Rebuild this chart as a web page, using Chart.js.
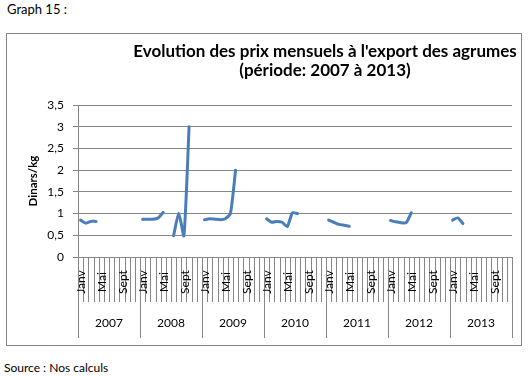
<!DOCTYPE html>
<html><head><meta charset="utf-8">
<script src="https://cdn.jsdelivr.net/npm/chart.js@4/dist/chart.umd.min.js"></script>
<style>
html,body{margin:0;padding:0;background:#fff;}
body{width:528px;height:376px;position:relative;overflow:hidden;font-family:Lato,sans-serif;color:#000;}
#hdr{position:absolute;left:7px;top:1px;font-size:13px;white-space:pre;}
#src{position:absolute;left:4px;top:360px;font-size:12px;white-space:pre;}
#box{position:absolute;left:6px;top:33px;width:514px;height:311px;border:1px solid #868686;}
#wrap{position:absolute;left:0;top:0;width:528px;height:376px;}
</style></head><body>
<div id="hdr">Graph 15 :</div>
<div id="box"></div>
<div id="src">Source : Nos calculs</div>
<div id="wrap"><canvas id="c" width="528" height="376"></canvas></div>
<script>
// ---- data ----
const years = ['2007', '2008', '2009', '2010', '2011', '2012', '2013'];
const months = ['Janv', 'Févr', 'Mars', 'Avr', 'Mai', 'Juin', 'Juil', 'Août', 'Sept', 'Oct', 'Nov', 'Déc'];
const shownMonths = ['Janv', 'Mai', 'Sept'];
const yTickLabels = ['0', '0,5', '1', '1,5', '2', '2,5', '3', '3,5'];
const titleLines = ["Evolution des prix mensuels à l'export des agrumes", '(période: 2007 à 2013)'];
const yTitle = 'Dinars/kg';

const p2007 = [0.85, 0.78, 0.82, 0.82, null, null, null, null, null, null, null, null];
const p2008 = [0.87, 0.87, 0.87, 0.90, 1.03, null, 0.49, 1.01, 0.49, 3.00, null, null];
const p2009 = [0.86, 0.88, 0.87, 0.86, 0.88, 1.00, 2.00, null, null, null, null, null];
const p2010 = [0.88, 0.80, 0.82, 0.80, 0.70, 1.02, 1.00, null, null, null, null, null];
const p2011 = [0.85, 0.80, 0.75, 0.73, 0.71, null, null, null, null, null, null, null];
const p2012 = [0.84, 0.81, 0.79, 0.79, 1.02, null, null, null, null, null, null, null];
const p2013 = [0.85, 0.90, 0.77, null, null, null, null, null, null, null, null, null];

const labels = years.flatMap(y => months.map(m => m));
const values = [].concat(p2007, p2008, p2009, p2010, p2011, p2012, p2013);

const GRID = '#868686';

const decor = {
  id: 'decor',
  afterDraw(chart) {
    const ctx = chart.ctx, xs = chart.scales.x, area = chart.chartArea;
    const n = labels.length;
    const half = (xs.getPixelForValue(1) - xs.getPixelForValue(0)) / 2;
    const y0 = area.bottom;
    ctx.save();
    ctx.strokeStyle = GRID; ctx.lineWidth = 1;
    for (let i = 0; i <= n; i++) {
      const xr = i < n ? xs.getPixelForValue(i) - half : xs.getPixelForValue(n - 1) + half;
      const x = Math.round(xr) + 0.5;
      const len = (i % 12 === 0) ? 81 : 45;
      ctx.beginPath(); ctx.moveTo(x, y0); ctx.lineTo(x, y0 + len); ctx.stroke();
    }
    ctx.fillStyle = '#000';
    ctx.font = '12px Lato';
    ctx.textAlign = 'center'; ctx.textBaseline = 'middle';
    labels.forEach((lab, i) => {
      if (!shownMonths.includes(lab)) return;
      const x = xs.getPixelForValue(i);
      ctx.save(); ctx.translate(x + 1, y0 + 25); ctx.rotate(-Math.PI / 2); ctx.fillText(lab, 0, 0); ctx.restore();
    });
    years.forEach((yr, k) => {
      const xa = xs.getPixelForValue(k * 12) - half, xb = xs.getPixelForValue(k * 12 + 11) + half;
      ctx.fillText(yr, (xa + xb) / 2, y0 + 66);
    });
    ctx.font = 'bold 17px Lato';
    ctx.textBaseline = 'alphabetic';
    ctx.fillText(titleLines[0], 325, 57);
    ctx.fillText(titleLines[1], 325, 76);
    ctx.restore();
  }
};

new Chart(document.getElementById('c'), {
  type: 'line',
  data: {
    labels: labels,
    datasets: [{
      data: values,
      borderColor: '#4A7EBB',
      borderWidth: 3,
      pointRadius: 0,
      pointHoverRadius: 0,
      tension: 0.2,
      spanGaps: false,
      borderCapStyle: 'round',
      borderJoinStyle: 'round',
      fill: false
    }]
  },
  options: {
    responsive: false,
    animation: false,
    devicePixelRatio: 1,
    layout: { padding: { left: 0, right: 16, top: 105, bottom: 119 } },
    plugins: { legend: { display: false }, title: { display: false }, tooltip: { enabled: false } },
    scales: {
      x: {
        type: 'category',
        offset: true,
        display: false
      },
      y: {
        min: 0, max: 3.5,
        afterFit(s) { s.width = 78; },
        ticks: {
          stepSize: 0.5,
          color: '#000',
          font: { family: 'Lato', size: 12 },
          padding: 9,
          callback: (v, i) => yTickLabels[i]
        },
        grid: { color: GRID, tickLength: 5, tickColor: GRID, lineWidth: 1 },
        border: { display: true, color: GRID },
        title: {
          display: true, text: yTitle, color: '#000',
          font: { family: 'Lato', size: 11.5, weight: 'bold' },
          padding: { top: 26, bottom: 0 }
        }
      }
    }
  },
  plugins: [decor]
});
</script>
</body></html>
